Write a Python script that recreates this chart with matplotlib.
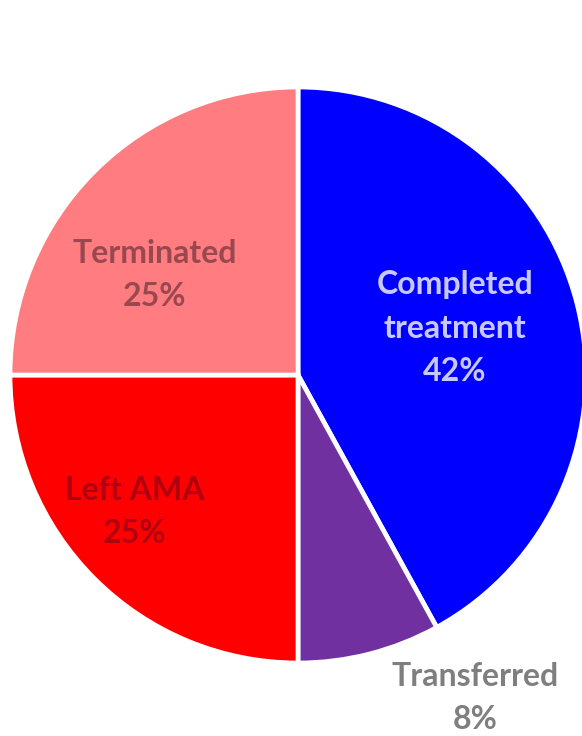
import matplotlib
matplotlib.use("Agg")
from matplotlib import pyplot as plt

labels = ["Completed\ntreatment", "Transferred", "Left AMA", "Terminated"]
shares = [42, 8, 25, 25]
colors = ["#0000FF", "#7030A0", "#FF0000", "#FF7C80"]
text_colors = ["#C8C8FF", "#7F7F7F", "#B00010", "#9A4850"]
# label anchor points (pixels, from top-left of the picture)
label_pos = [(455, 328), (475, 698), (135, 512), (155, 275)]

W, H = 582, 736
fig = plt.figure(figsize=(W / 100, H / 100), dpi=100)
ax = fig.add_axes([0, 0, 1, 1])

cx, cy, r = 298, H - 375, 288
ax.pie(shares, colors=colors, startangle=90, counterclock=False,
       center=(cx, cy), radius=r,
       wedgeprops=dict(edgecolor="white", linewidth=3.4))
ax.set_xlim(0, W)
ax.set_ylim(0, H)
ax.set_aspect("equal")
ax.axis("off")

for lab, val, col, (x, y) in zip(labels, shares, text_colors, label_pos):
    ax.text(x, H - y, "{}\n{}%".format(lab, val), ha="center", va="center",
            color=col, fontsize=23, fontweight="bold", family="Lato",
            linespacing=1.6)

fig.savefig("out.png", dpi=100)
